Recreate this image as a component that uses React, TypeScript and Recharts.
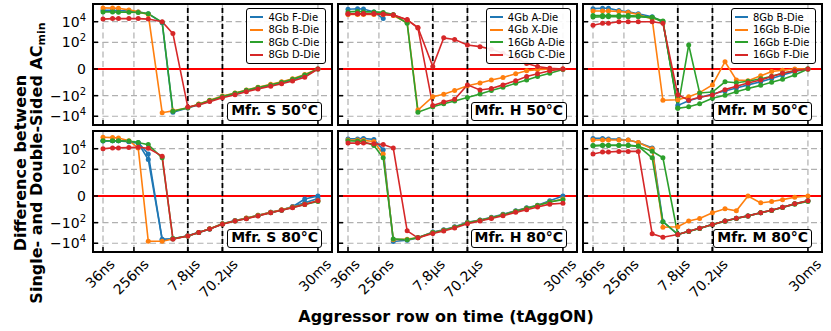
import React from 'react';
import { LineChart, Line, XAxis, YAxis, CartesianGrid, ReferenceLine } from 'recharts';

const BLUE = '#1f77b4';
const ORANGE = '#ff7f0e';
const GREEN = '#2ca02c';
const RED = '#d62728';

// tAggON sample points (ns)
const T_AGG_ON_NS = [36, 66, 96, 186, 336, 636, 1536, 3036, 7800, 15600, 31200, 70200, 156000, 320000, 670000, 1500000, 3000000, 6000000, 13000000, 30000000];

const X_TICK_NS = [36, 256, 7800, 70200, 30000000];
const X_TICK_LABELS = ['36ns', '256ns', '7.8μs', '70.2μs', '30ms'];
const REFRESH_MARKS_NS = [7800, 70200];
const Y_TICK_VALUES = [-10000, -100, 0, 100, 10000];

// Mfr. S 50°C
const S50_4GB_F = [130000, 130000, 120000, 110000, 90000, 60000, 8000, -4000, -1600, -750, -330, -130, -62, -33, -18, -10, -5.5, -3, -1.2, 0];
const S50_8GB_B = [220000, 210000, 200000, 140000, 90000, 50000, -4500, -3000, -1500, -650, -280, -110, -55, -28, -15, -8, -4.5, -2.3, -0.9, 0];
const S50_8GB_C = [90000, 90000, 85000, 85000, 80000, 60000, 9000, -3300, -1500, -700, -300, -120, -58, -30, -16, -9, -5, -2.6, -1, 0];
const S50_8GB_D = [18000, 20000, 20000, 20000, 20000, 18000, 10000, 700, -1300, -800, -380, -160, -80, -42, -22, -12, -7, -3.8, -1.6, 0];

// Mfr. H 50°C
const H50_4GB_A = [160000, 180000, 170000, 90000, 20000, null, null, null, null, null, null, null, null, null, null, null, null, null, null, null];
const H50_4GB_X = [50000, 50000, 50000, 50000, 50000, 40000, 8000, -2500, -125, -74, -32, -11, -6, -3, -1.7, -0.8, -0.3, -0.1, 0, 0];
const H50_16GB_A = [90000, 100000, 90000, 90000, 80000, 50000, 7000, -4000, -1170, -620, -330, -150, -69, -32, -15.5, -6.3, -3, -1.4, -0.7, -0.1];
const H50_16GB_C1 = [60000, 60000, 60000, 60000, 55000, 46000, 16000, 2700, 0.4, 270, 185, 55, 38, 21, 8.5, 2.8, 0.9, 0.4, 0.1, 0];
const H50_16GB_C2 = [55000, 58000, 58000, 58000, 52000, 44000, 15000, 2500, -920, -420, -220, -9, -28, -20, -9, -3.5, -1.4, -0.8, -0.3, 0];

// Mfr. M 50°C
const M50_8GB_B = [185000, 200000, 200000, 120000, 90000, 60000, 30000, 10000, -900, -320, -150, -70, -35, -18, -9, -4.5, -2.2, -1, -0.4, 0];
const M50_16GB_B = [110000, 110000, 110000, 100000, 80000, 50000, 18000, -280, -250, -125, -51, -9, 1.3, -3, -3.5, -1.2, -0.4, -0.2, 0, 0];
const M50_16GB_E1 = [40000, 40000, 40000, 40000, 40000, 35000, 27000, 12000, -1600, 55, -55, -45, -4.5, -5.5, -4, -2.3, -1.3, -0.7, -0.3, 0];
const M50_16GB_E2 = [28000, 30000, 30000, 30000, 30000, 30000, 25000, 10000, -1700, -1200, -620, -180, -90, -41, -20, -10, -5, -2.5, -1, 0];
const M50_16GB_F = [4500, 7000, 7000, 10000, 10000, 10000, 10000, 7000, -80, -280, -140, -85, -26, -12, -6, -3, -1.4, -0.7, -0.3, 0];

// Mfr. S 80°C
const S80_4GB_F1 = [60000, 60000, 60000, 50000, 40000, 3100, -4500, -3800, -2000, -900, -420, -130, -65, -38, -20, -10, -6, -2.8, -0.5, 0];
const S80_4GB_F2 = [55000, 58000, 58000, 48000, 35000, 900, -4200, -3600, -1900, -880, -410, -128, -63, -37, -19, -10, -5.8, -2.7, -1.2, -0.4];
const S80_8GB_B = [130000, 120000, 110000, 60000, 12000, -6500, -6500, -3800, -2000, -900, -400, -130, -65, -36, -19, -10, -5.5, -3, -1.6, -0.8];
const S80_8GB_C = [60000, 60000, 60000, 55000, 40000, 25000, 1300, -3500, -2000, -900, -420, -135, -68, -40, -21, -11, -6.3, -3.4, -1.7, -0.9];
const S80_8GB_D = [10000, 12000, 12000, 13000, 14000, 11000, 1900, -3900, -2000, -900, -420, -140, -69, -41, -22, -11, -6.3, -3.5, -1.7, -0.8];

// Mfr. H 80°C
const H80_4GB_A = [90000, 90000, 100000, 80000, 8000, -6700, -5000, -3000, -800, -500, -250, -90, -55, -30, -15, -7, -3.5, -2, -0.8, 0];
const H80_4GB_X = [70000, 70000, 65000, 50000, 3000, -4500, -4000, -3000, -900, -550, -280, -100, -60, -33, -17, -8, -4, -2.2, -1, -0.5];
const H80_16GB_A = [60000, 55000, 50000, 20000, 1300, -3800, -4500, -2800, -900, -550, -280, -100, -60, -33, -17, -8, -4, -2.2, -1, -0.6];
const H80_16GB_C = [35000, 35000, 35000, 30000, 25000, 11500, -620, -3000, -1100, -650, -330, -130, -70, -40, -21, -10, -5.5, -3, -1.6, -1.3];

// Mfr. M 80°C
const M80_8GB_B = [100000, 100000, 90000, 80000, 70000, 40000, 12000, -80, -1400, -700, -350, -150, -69, -38, -22, -10.7, -6.3, -3.2, -1.5, -0.8];
const M80_16GB_B = [70000, 70000, 70000, 70000, 70000, 40000, 10000, -280, -250, -69, -40, -11, -4.5, -7, 0, -1.2, -0.9, -0.6, -0.2, 0];
const M80_16GB_E1 = [20000, 22000, 22000, 22000, 22000, 18000, 1300, -80, -1400, -700, -350, -150, -69, -38, -22, -10.7, -6.3, -3.2, -1.5, -0.8];
const M80_16GB_E2 = [19000, 21000, 21000, 21000, 21000, 17000, 5600, 1300, -1400, -720, -360, -155, -72, -40, -23, -11, -6.5, -3.3, -1.6, -0.9];
const M80_16GB_F = [3100, 4800, 4800, 5500, 5500, 5500, -1200, -2600, -1400, -700, -350, -150, -69, -38, -22, -10.7, -6.3, -3.2, -1.5, -0.8];

type Series = { values: (number | null)[]; color: string };
type PanelDef = { label: string; legend: [string, string][]; series: Series[] };

const PANELS: PanelDef[] = [
  {
    label: 'Mfr. S 50°C',
    legend: [['4Gb F-Die', BLUE], ['8Gb B-Die', ORANGE], ['8Gb C-Die', GREEN], ['8Gb D-Die', RED]],
    series: [
      { values: S50_4GB_F, color: BLUE },
      { values: S50_8GB_B, color: ORANGE },
      { values: S50_8GB_C, color: GREEN },
      { values: S50_8GB_D, color: RED },
    ],
  },
  {
    label: 'Mfr. H 50°C',
    legend: [['4Gb A-Die', BLUE], ['4Gb X-Die', ORANGE], ['16Gb A-Die', GREEN], ['16Gb C-Die', RED]],
    series: [
      { values: H50_4GB_A, color: BLUE },
      { values: H50_4GB_X, color: ORANGE },
      { values: H50_16GB_A, color: GREEN },
      { values: H50_16GB_C1, color: RED },
      { values: H50_16GB_C2, color: RED },
    ],
  },
  {
    label: 'Mfr. M 50°C',
    legend: [['8Gb B-Die', BLUE], ['16Gb B-Die', ORANGE], ['16Gb E-Die', GREEN], ['16Gb F-Die', RED]],
    series: [
      { values: M50_8GB_B, color: BLUE },
      { values: M50_16GB_B, color: ORANGE },
      { values: M50_16GB_E1, color: GREEN },
      { values: M50_16GB_E2, color: GREEN },
      { values: M50_16GB_F, color: RED },
    ],
  },
  {
    label: 'Mfr. S 80°C',
    legend: [],
    series: [
      { values: S80_4GB_F1, color: BLUE },
      { values: S80_4GB_F2, color: BLUE },
      { values: S80_8GB_B, color: ORANGE },
      { values: S80_8GB_C, color: GREEN },
      { values: S80_8GB_D, color: RED },
    ],
  },
  {
    label: 'Mfr. H 80°C',
    legend: [],
    series: [
      { values: H80_4GB_A, color: BLUE },
      { values: H80_4GB_X, color: ORANGE },
      { values: H80_16GB_A, color: GREEN },
      { values: H80_16GB_C, color: RED },
    ],
  },
  {
    label: 'Mfr. M 80°C',
    legend: [],
    series: [
      { values: M80_8GB_B, color: BLUE },
      { values: M80_16GB_B, color: ORANGE },
      { values: M80_16GB_E1, color: GREEN },
      { values: M80_16GB_E2, color: GREEN },
      { values: M80_16GB_F, color: RED },
    ],
  },
];

// symmetric log transform (linear inside |v| <= 1)
const LIN = 0.59;
const symlog = (v: number | null) => {
  if (v === null) return null;
  const a = Math.abs(v);
  return a <= 1 ? v * LIN : Math.sign(v) * (LIN + Math.log10(a));
};

const FONT = 'DejaVu Sans, sans-serif';
const PLOT_LEFT = [93, 338, 583];
const PLOT_TOP = [4, 131];
const PLOT_W = 239;
const PLOT_H = 121;
const X_DOMAIN: [number, number] = [1.2808, 1.2808 + PLOT_W / 36.3];
const Y_DOMAIN: [number, number] = [-5.44, 6.31];
const X_TICKS = X_TICK_NS.map((ns) => Math.log10(ns));
const Y_TICKS = Y_TICK_VALUES.map((v) => symlog(v) as number);

const nearestIndex = (arr: number[], v: number) => {
  let best = 0;
  arr.forEach((a, i) => {
    if (Math.abs(a - v) < Math.abs(arr[best] - v)) best = i;
  });
  return best;
};

const CHAR_W: Record<string, number> = { '.': 4.45, n: 8.9, s: 7.3, m: 13.6, 'μ': 8.9 };

function XTick(props: any) {
  const { x, y, payload, show } = props;
  const label = X_TICK_LABELS[nearestIndex(X_TICKS, payload.value)];
  const w = label.split('').reduce((s: number, c: string) => s + (CHAR_W[c] ?? 8.9), 0);
  const asc = 10;
  const desc = label.includes('μ') ? 3 : 0;
  // rotated label, its box centred under the tick
  const px = x - 3 + 0.3535 * (w + asc - desc);
  const py = y + 6 + 0.707 * asc;
  return (
    <g>
      <line x1={x} x2={x} y1={y} y2={y - 5} stroke="#000" strokeWidth={1.5} />
      {show && (
        <text transform={`translate(${px},${py}) rotate(-45)`} textAnchor="end" fontSize={14} fontFamily={FONT} fill="#000">
          {label}
        </text>
      )}
    </g>
  );
}

function YTick(props: any) {
  const { x, y, payload, show } = props;
  const v = Y_TICK_VALUES[nearestIndex(Y_TICKS, payload.value)];
  const exp = v === 0 ? 0 : Math.round(Math.log10(Math.abs(v)));
  return (
    <g>
      <line x1={x} x2={x + 5} y1={y} y2={y} stroke="#000" strokeWidth={1.5} />
      {show && (
        <text x={x - 7} y={y + 5} textAnchor="end" fontSize={14} fontFamily={FONT} fill="#000">
          {v === 0 ? (
            '0'
          ) : (
            <>
              <tspan>{v < 0 ? '\u221210' : '10'}</tspan>
              <tspan dy={-6} fontSize={10}>{exp}</tspan>
            </>
          )}
        </text>
      )}
    </g>
  );
}

function Panel({ def, col, row }: { def: PanelDef; col: number; row: number }) {
  const yAxisW = col === 0 ? 60 : 1;
  const xAxisH = row === 1 ? 75 : 1;
  const data = T_AGG_ON_NS.map((ns, i) => {
    const r: Record<string, number | null> = { x: Math.log10(ns) };
    def.series.forEach((s, j) => {
      r['s' + j] = symlog(s.values[i]);
    });
    return r;
  });

  return (
    <div
      style={{
        position: 'absolute',
        left: PLOT_LEFT[col] - yAxisW,
        top: PLOT_TOP[row],
        width: PLOT_W + yAxisW,
        height: PLOT_H + xAxisH,
      }}
    >
      <LineChart width={PLOT_W + yAxisW} height={PLOT_H + xAxisH} data={data} margin={{ top: 0, right: 0, bottom: 0, left: 0 }}>
        <CartesianGrid stroke="#b0b0b0" strokeDasharray="6 3.5" strokeWidth={1.2} />
        <XAxis
          dataKey="x"
          type="number"
          domain={X_DOMAIN}
          ticks={X_TICKS}
          allowDataOverflow
          interval={0}
          height={xAxisH}
          tickSize={0}
          tickMargin={0}
          tickLine={false}
          axisLine={false}
          tick={(p: any) => <XTick {...p} show={row === 1} />}
        />
        <YAxis
          type="number"
          domain={Y_DOMAIN}
          ticks={Y_TICKS}
          allowDataOverflow
          interval={0}
          width={yAxisW}
          tickSize={0}
          tickMargin={0}
          tickLine={false}
          axisLine={false}
          tick={(p: any) => <YTick {...p} show={col === 0} />}
        />
        <ReferenceLine y={0} stroke="#ff0000" strokeWidth={1.8} />
        {REFRESH_MARKS_NS.map((ns) => (
          <ReferenceLine key={ns} x={Math.log10(ns)} stroke="#000" strokeWidth={1.8} strokeDasharray="5 3" />
        ))}
        {def.series.map((s, j) => (
          <Line
            key={j}
            dataKey={'s' + j}
            stroke={s.color}
            strokeWidth={1.6}
            dot={{ r: 2.5, fill: s.color, stroke: 'none' }}
            activeDot={false}
            connectNulls={false}
            isAnimationActive={false}
          />
        ))}
      </LineChart>

      {/* frame */}
      <div
        style={{
          position: 'absolute',
          left: yAxisW - 1.25,
          top: -1.25,
          width: PLOT_W + 2.5,
          height: PLOT_H + 2.5,
          border: '2.5px solid #000',
          boxSizing: 'border-box',
          pointerEvents: 'none',
        }}
      />

      {/* legend */}
      {def.legend.length > 0 && (
        <div
          style={{
            position: 'absolute',
            right: 6,
            top: 4,
            border: '1.5px solid #000',
            borderRadius: 3,
            background: 'rgba(255,255,255,0.9)',
            padding: '2px 5px 2px 3px',
            fontFamily: FONT,
            fontSize: 10,
            color: '#000',
          }}
        >
          {def.legend.map(([name, color]) => (
            <div key={name} style={{ display: 'flex', alignItems: 'center', height: 12.5, whiteSpace: 'nowrap' }}>
              <span style={{ display: 'inline-block', width: 13, height: 2, background: color, marginRight: 5 }} />
              <span>{name}</span>
            </div>
          ))}
        </div>
      )}

      {/* panel label */}
      <div
        style={{
          position: 'absolute',
          right: 10,
          top: PLOT_H - 4 - 19,
          height: 19,
          boxSizing: 'border-box',
          border: '1.8px solid #000',
          borderRadius: 3,
          background: '#fff',
          padding: '0 3px',
          fontFamily: FONT,
          fontWeight: 'bold',
          fontSize: 14,
          lineHeight: '15.5px',
          color: '#000',
          whiteSpace: 'nowrap',
        }}
      >
        {def.label}
      </div>
    </div>
  );
}

export default function App() {
  return (
    <div style={{ position: 'absolute', left: 0, top: 0, width: 831, height: 331, background: '#fff', overflow: 'hidden' }}>
      <style>{'.recharts-surface { overflow: visible; } .recharts-wrapper { overflow: visible; }'}</style>
      <svg width={831} height={331} style={{ position: 'absolute', left: 0, top: 0 }}>
        <text transform="translate(26,163) rotate(-90)" textAnchor="middle" fontFamily={FONT} fontWeight="bold" fontSize={16}>
          Difference between
        </text>
        <text transform="translate(42,163) rotate(-90)" textAnchor="middle" fontFamily={FONT} fontWeight="bold" fontSize={16}>
          Single- and Double-Sided AC
          <tspan fontSize={11} dy={3}>min</tspan>
        </text>
        <text x={446} y={322} textAnchor="middle" fontFamily={FONT} fontWeight="bold" fontSize={16}>
          Aggressor row on time (tAggON)
        </text>
      </svg>
      {PANELS.map((def, i) => (
        <Panel key={i} def={def} col={i % 3} row={Math.floor(i / 3)} />
      ))}
    </div>
  );
}
